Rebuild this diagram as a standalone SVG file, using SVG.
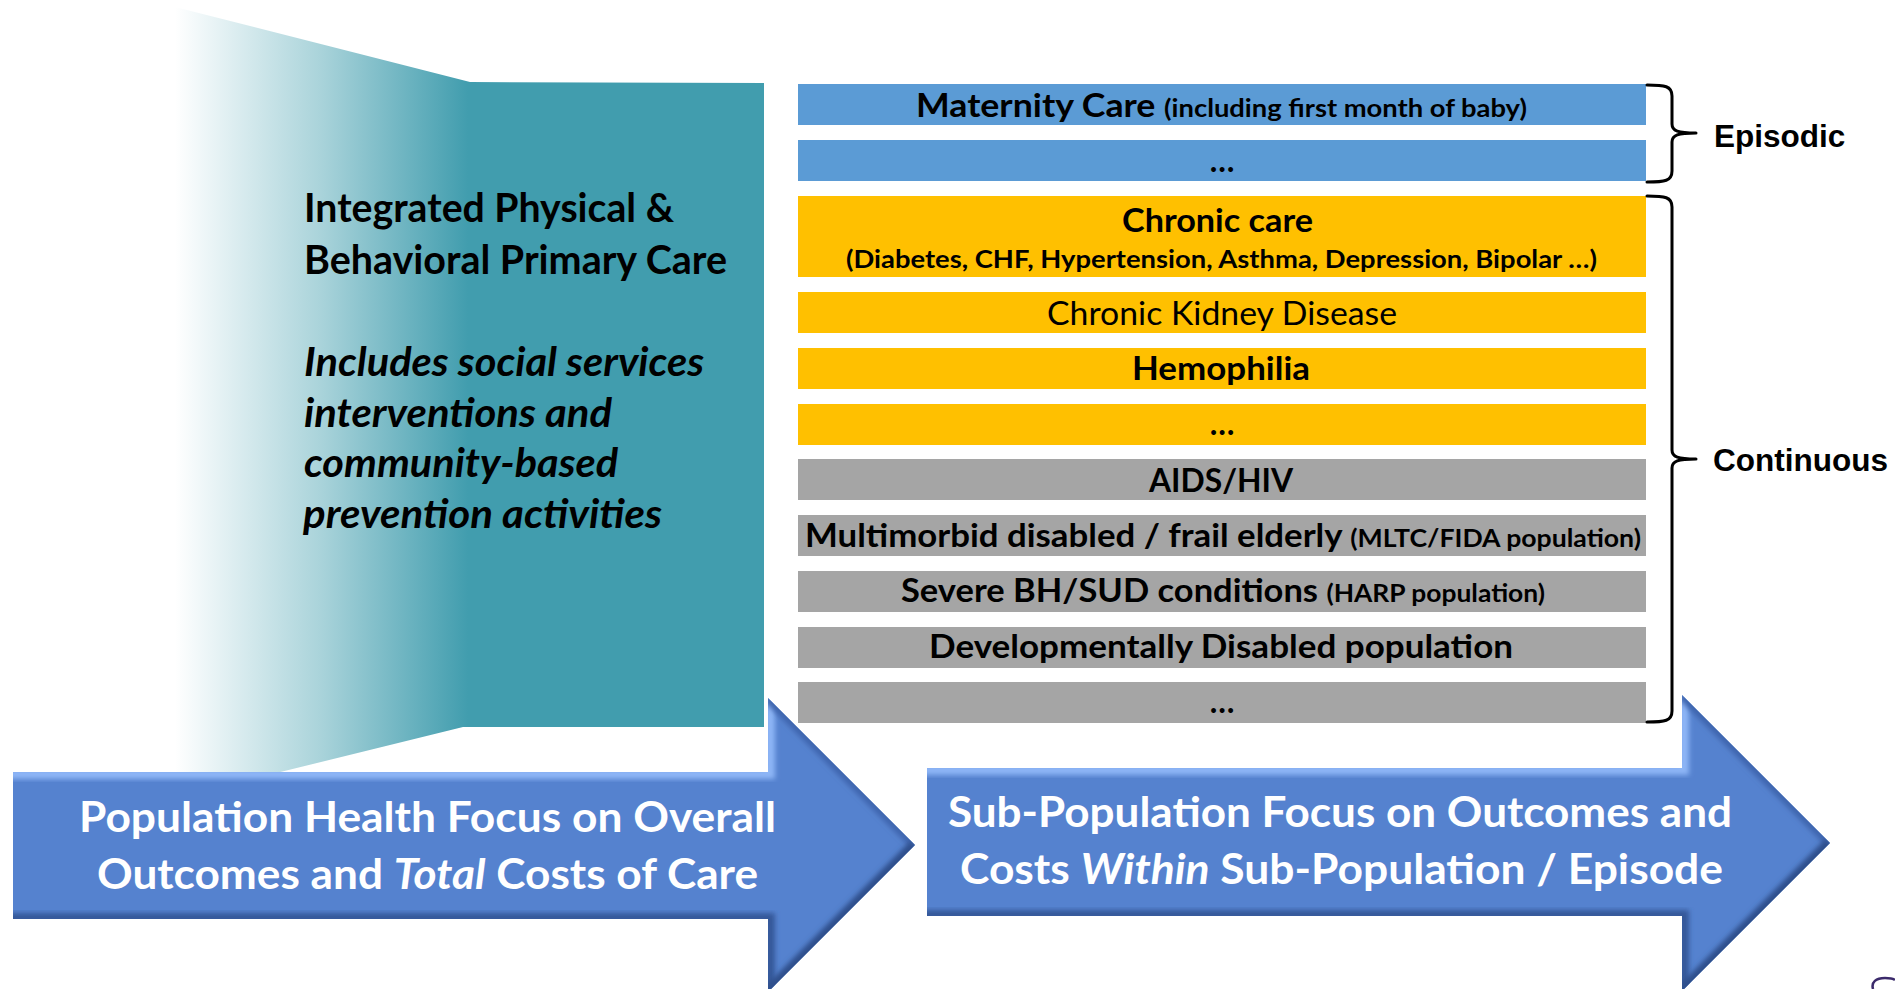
<svg xmlns="http://www.w3.org/2000/svg" width="1895" height="989" viewBox="0 0 1895 989">
<defs>
<style>
.lb{font-family:Lato,"Open Sans","Liberation Sans",sans-serif;font-weight:bold;}
.lr{font-family:Lato,"Open Sans","Liberation Sans",sans-serif;font-weight:normal;}
.bar{font-size:32px;fill:#000;}
.sm{font-size:24.5px;}
.side{font-family:"Liberation Sans",Arial,sans-serif;font-weight:bold;font-size:31.5px;fill:#000;}
.panel{font-size:41px;fill:#000;}
.arrowtxt{font-size:41.5px;fill:#fff;}
.it{font-style:italic;}
.blue{fill:#5B9BD5;}
.yel{fill:#FFC000;}
.gray{fill:#A5A5A5;}
.brace{fill:none;stroke:#000;stroke-width:3;stroke-linecap:round;stroke-linejoin:round;}
</style>
<linearGradient id="teal" gradientUnits="userSpaceOnUse" x1="175" y1="0" x2="468" y2="0">
<stop offset="0" stop-color="#ffffff"/>
<stop offset="0.5" stop-color="#A9D3DA"/>
<stop offset="1" stop-color="#419DAE"/>
</linearGradient>
<filter id="blur" x="-10%" y="-10%" width="120%" height="120%"><feGaussianBlur stdDeviation="2.5"/></filter>
<clipPath id="clipA1"><polygon points="13,772 768,772 768,698 915,845 768,992 768,919 13,919"/></clipPath>
<clipPath id="clipA2"><polygon points="927,768 1682,768 1682,695 1830,843 1682,991 1682,916 927,916"/></clipPath>
</defs>
<rect width="1895" height="989" fill="#fff"/>

<g id="panel-primary-care">
<polygon points="175,7 470,82 764,83 764,727 463,727 175,798" fill="url(#teal)"/>
<text class="lb panel" x="304" y="222" textLength="370" lengthAdjust="spacingAndGlyphs">Integrated Physical &amp;</text>
<text class="lb panel" x="304" y="274" textLength="423" lengthAdjust="spacingAndGlyphs">Behavioral Primary Care</text>
<text class="lb panel it" x="304" y="376" textLength="400" lengthAdjust="spacingAndGlyphs">Includes social services</text>
<text class="lb panel it" x="304" y="427" textLength="308" lengthAdjust="spacingAndGlyphs">interventions and</text>
<text class="lb panel it" x="304" y="477" textLength="314" lengthAdjust="spacingAndGlyphs">community-based</text>
<text class="lb panel it" x="303" y="528" textLength="359" lengthAdjust="spacingAndGlyphs">prevention activities</text>
</g>

<g id="bar-maternity">
<rect class="blue" x="798" y="84" width="848" height="41"/>
<text class="lb bar" x="916" y="117" textLength="611" lengthAdjust="spacingAndGlyphs"><tspan>Maternity Care </tspan><tspan class="sm">(including first month of baby)</tspan></text>
</g>
<g id="bar-episodic-more">
<rect class="blue" x="798" y="140" width="848" height="41"/>
<text class="lb bar" x="1222" y="172" text-anchor="middle">…</text>
</g>
<g id="bar-chronic-care">
<rect class="yel" x="798" y="196" width="848" height="81"/>
<text class="lb bar" x="1122" y="232" textLength="191" lengthAdjust="spacingAndGlyphs">Chronic care</text>
<text class="lb bar sm" x="846" y="268" textLength="751" lengthAdjust="spacingAndGlyphs">(Diabetes, CHF, Hypertension, Asthma, Depression, Bipolar …)</text>
</g>
<g id="bar-ckd">
<rect class="yel" x="798" y="292" width="848" height="41"/>
<text class="lr bar" x="1047" y="325" textLength="350" lengthAdjust="spacingAndGlyphs">Chronic Kidney Disease</text>
</g>
<g id="bar-hemophilia">
<rect class="yel" x="798" y="348" width="848" height="41"/>
<text class="lb bar" x="1132" y="380" textLength="178" lengthAdjust="spacingAndGlyphs">Hemophilia</text>
</g>
<g id="bar-chronic-more">
<rect class="yel" x="798" y="404" width="848" height="41"/>
<text class="lb bar" x="1222" y="435" text-anchor="middle">…</text>
</g>
<g id="bar-aids">
<rect class="gray" x="798" y="459" width="848" height="41"/>
<text class="lb bar" x="1149" y="492" textLength="144" lengthAdjust="spacingAndGlyphs">AIDS/HIV</text>
</g>
<g id="bar-multimorbid">
<rect class="gray" x="798" y="515" width="848" height="41"/>
<text class="lb bar" x="805" y="547" textLength="836" lengthAdjust="spacingAndGlyphs"><tspan>Multimorbid disabled / frail elderly </tspan><tspan class="sm">(MLTC/FIDA population)</tspan></text>
</g>
<g id="bar-severe-bh">
<rect class="gray" x="798" y="571" width="848" height="41"/>
<text class="lb bar" x="901" y="602" textLength="644" lengthAdjust="spacingAndGlyphs"><tspan>Severe BH/SUD conditions </tspan><tspan class="sm">(HARP population)</tspan></text>
</g>
<g id="bar-developmental">
<rect class="gray" x="798" y="627" width="848" height="41"/>
<text class="lb bar" x="929" y="658" textLength="584" lengthAdjust="spacingAndGlyphs">Developmentally Disabled population</text>
</g>
<g id="bar-continuous-more">
<rect class="gray" x="798" y="682" width="848" height="41"/>
<text class="lb bar" x="1222" y="713" text-anchor="middle">…</text>
</g>

<g id="connectors">
<path class="brace" d="M1647,85 C1665,85 1672,86 1672,96 L1672,124 C1672,131 1678,133 1696,133 C1678,133 1672,135 1672,142 L1672,171 C1672,181 1665,182 1647,182"/>
<path class="brace" d="M1647,196 C1665,196 1672,197 1672,207 L1672,450 C1672,457 1678,459 1696,459 C1678,459 1672,461 1672,468 L1672,711 C1672,721 1665,722 1647,722"/>
</g>

<g id="label-episodic">
<text class="side" x="1714" y="147">Episodic</text>
</g>
<g id="label-continuous">
<text class="side" x="1713" y="471">Continuous</text>
</g>

<g id="arrow-population">
<polygon points="13,772 768,772 768,698 915,845 768,992 768,919 13,919" fill="#5582CF"/>
<g clip-path="url(#clipA1)">
<polyline points="5,774 770,774 770,700" fill="none" stroke="#8DB5F6" stroke-width="10" filter="url(#blur)"/>
<polyline points="5,918 770,918 770,990" fill="none" stroke="#35589A" stroke-width="10" filter="url(#blur)"/>
<line x1="768" y1="698" x2="915" y2="845" stroke="#3F66AE" stroke-width="10" filter="url(#blur)"/>
<line x1="915" y1="845" x2="768" y2="992" stroke="#2F4F8C" stroke-width="12" filter="url(#blur)"/>
<line x1="15" y1="772" x2="15" y2="919" stroke="#456FB8" stroke-width="6" filter="url(#blur)"/>
</g>
<text class="lb arrowtxt" x="79" y="832" textLength="697" lengthAdjust="spacingAndGlyphs">Population Health Focus on Overall</text>
<text class="lb arrowtxt" x="97" y="889" textLength="661" lengthAdjust="spacingAndGlyphs">Outcomes and <tspan class="it">Total</tspan> Costs of Care</text>
</g>

<g id="arrow-subpopulation">
<polygon points="927,768 1682,768 1682,695 1830,843 1682,991 1682,916 927,916" fill="#5582CF"/>
<g clip-path="url(#clipA2)">
<polyline points="919,770 1684,770 1684,697" fill="none" stroke="#8DB5F6" stroke-width="10" filter="url(#blur)"/>
<polyline points="919,915 1684,915 1684,990" fill="none" stroke="#35589A" stroke-width="10" filter="url(#blur)"/>
<line x1="1682" y1="695" x2="1830" y2="843" stroke="#3F66AE" stroke-width="10" filter="url(#blur)"/>
<line x1="1830" y1="843" x2="1682" y2="991" stroke="#2F4F8C" stroke-width="12" filter="url(#blur)"/>
<line x1="929" y1="768" x2="929" y2="916" stroke="#456FB8" stroke-width="6" filter="url(#blur)"/>
</g>
<text class="lb arrowtxt" x="948" y="827" textLength="784" lengthAdjust="spacingAndGlyphs">Sub-Population Focus on Outcomes and</text>
<text class="lb arrowtxt" x="960" y="884" textLength="763" lengthAdjust="spacingAndGlyphs">Costs <tspan class="it">Within</tspan> Sub-Population / Episode</text>
</g>

<path d="M1873,989 C1871,982 1876,978 1885,978 C1890,978 1894,979 1895,980" fill="none" stroke="#3B2A6B" stroke-width="2.5"/>
</svg>
